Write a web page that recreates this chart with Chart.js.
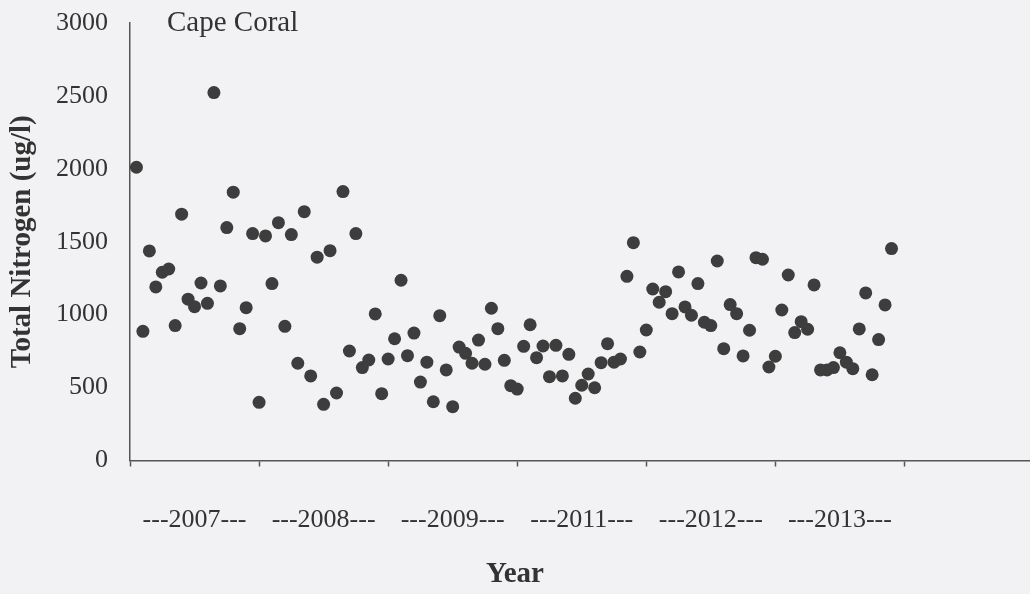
<!DOCTYPE html>
<html>
<head>
<meta charset="utf-8">
<script src="https://cdn.jsdelivr.net/npm/chart.js@4/dist/chart.umd.min.js"></script>
<style>
  html, body { margin: 0; padding: 0; background: #f2f2f4; overflow: hidden; }
  canvas { display: block; }
</style>
</head>
<body>
<canvas id="chart" width="1040" height="594"></canvas>
<script>
const siteName = 'Cape Coral';
const xTitle = 'Year';
const yearLabels = ['---2007---', '---2008---', '---2009---', '---2011---', '---2012---', '---2013---'];

// monthly total nitrogen samples (ug/l), in sampling order
const totalNitrogen = [
  2011, 886, 1437, 1190, 1291, 1313, 925, 1689, 1106, 1055,
  1217, 1078, 2523, 1197, 1597, 1840, 904, 1048, 1556, 399,
  1540, 1213, 1631, 920, 1549, 667, 1706, 580, 1394, 385,
  1439, 463, 1844, 751, 1556, 637, 689, 1005, 458, 696,
  835, 1236, 719, 874, 538, 674, 403, 993, 621, 369,
  778, 735, 667, 826, 660, 1044, 904, 687, 513, 490,
  783, 931, 705, 785, 575, 790, 580, 728, 427, 516,
  593, 499, 671, 801, 674, 696, 1263, 1494, 744, 895,
  1176, 1085, 1158, 1007, 1293, 1053, 996, 1213, 948, 925,
  1368, 767, 1069, 1007, 717, 893, 1391, 1380, 641, 715,
  1032, 1272, 877, 952, 900, 1204, 621, 621, 637, 739,
  674, 630, 902, 1149, 588, 829, 1067, 1453
];

const textColor = '#333';
const axisColor = '#555';
const dotColor = '#3d3d3d';

Chart.defaults.font.family = '"Liberation Serif", "Times New Roman", serif';
Chart.defaults.color = textColor;

// site name inside the plot, and the x title centred under the page
const extraText = {
  id: 'extraText',
  afterDraw(chart) {
    const { ctx, chartArea } = chart;
    ctx.save();
    ctx.fillStyle = textColor;
    ctx.textBaseline = 'middle';
    ctx.font = '29px "Liberation Serif"';
    ctx.fillText(siteName, chartArea.left + 37, chartArea.top);
    ctx.font = 'bold 29px "Liberation Serif"';
    ctx.textAlign = 'center';
    ctx.fillText(xTitle, 515, 575);
    ctx.restore();
  }
};

new Chart(document.getElementById('chart'), {
  type: 'scatter',
  data: {
    datasets: [{
      data: totalNitrogen.map((v, i) => ({ x: i + 1, y: v })),
      backgroundColor: dotColor,
      borderWidth: 0,
      pointRadius: 6.5,
      pointHoverRadius: 6.5
    }]
  },
  options: {
    responsive: false,
    animation: false,
    layout: { padding: { top: 23, right: 5, bottom: 0, left: 0 } },
    plugins: { legend: { display: false }, tooltip: { enabled: false } },
    scales: {
      x: {
        type: 'linear',
        min: 0,
        max: 140,
        afterBuildTicks(scale) {
          const t = [];
          for (let v = 0; v <= 140; v += 10) t.push({ value: v });
          scale.ticks = t;
        },
        afterFit(scale) {
          scale.height = 133.5;
          scale.paddingLeft = 0;
          scale.paddingRight = 0;
        },
        grid: {
          display: true,
          drawOnChartArea: false,
          drawTicks: true,
          tickLength: 6,
          tickWidth: 1.5,
          tickColor: (ctx) => (ctx.tick && ctx.tick.value % 20 === 0) ? axisColor : 'rgba(0,0,0,0)'
        },
        border: { display: true, color: axisColor, width: 1.5 },
        ticks: {
          autoSkip: false,
          maxRotation: 0,
          padding: 38,
          font: { size: 26 },
          callback: (v) => v % 20 === 10 ? (yearLabels[(v - 10) / 20] || '') : ''
        }
      },
      y: {
        min: 0,
        max: 3000,
        afterFit(scale) {
          scale.width = 130;
          scale.paddingTop = 0;
          scale.paddingBottom = 0;
        },
        grid: { display: false, drawTicks: false },
        border: { display: true, color: axisColor, width: 1.5 },
        ticks: { stepSize: 500, padding: 22, font: { size: 26 }, callback: (v) => String(v) },
        title: {
          display: true,
          text: 'Total Nitrogen (ug/l)',
          font: { size: 29, weight: 'bold' },
          padding: { top: 5, bottom: 0 }
        }
      }
    }
  },
  plugins: [extraText]
});
</script>
</body>
</html>
